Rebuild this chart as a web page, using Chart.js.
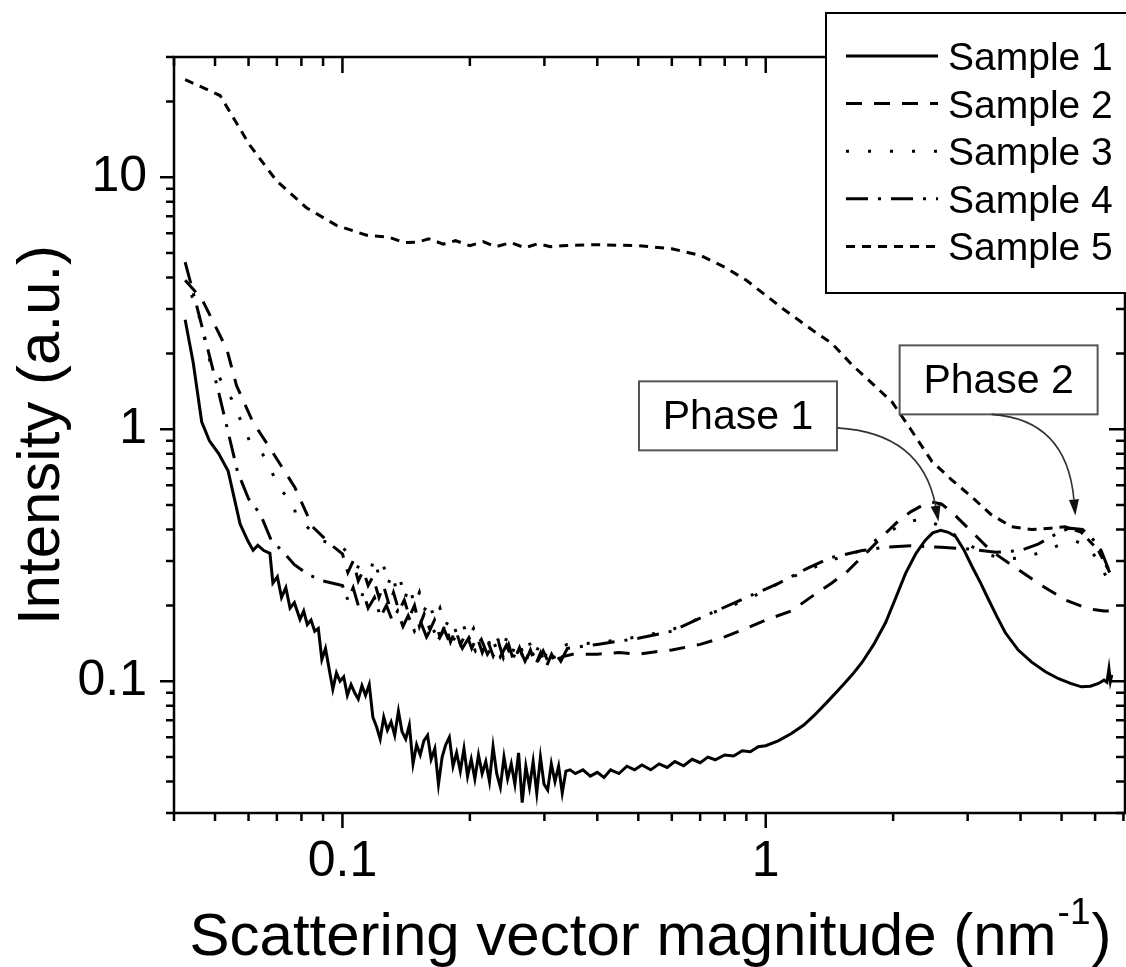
<!DOCTYPE html>
<html>
<head>
<meta charset="utf-8">
<script src="https://cdn.jsdelivr.net/npm/chart.js@4.4.1/dist/chart.umd.min.js"></script>
<style>
  html, body { margin: 0; padding: 0; background: #fff; }
  #wrap { width: 1126px; height: 967px; }
</style>
</head>
<body>
<div id="wrap"><canvas id="saxsChart" width="1126" height="967"></canvas></div>
<script>
// SAXS intensity vs. q for five samples, log-log
const FONT = "'Liberation Sans', Arial, Helvetica, sans-serif";

const sampleLabels = ["Sample 1", "Sample 2", "Sample 3", "Sample 4", "Sample 5"];
const sampleDashes = [[], [16, 12], [3, 19], [22, 10, 3, 10], [9, 7]];

// [q (nm^-1), intensity (a.u.)]
const sample1 = [
  [0.0425, 2.72], [0.0444, 1.84], [0.0465, 1.07], [0.0485, 0.90], [0.051, 0.80], [0.0537, 0.682],
  [0.0573, 0.421], [0.0598, 0.36], [0.0615, 0.331], [0.0631, 0.346], [0.0652, 0.33], [0.0674, 0.322],
  [0.0685, 0.245], [0.0702, 0.26], [0.0718, 0.215], [0.0735, 0.235], [0.0752, 0.195], [0.077, 0.205],
  [0.0794, 0.176], [0.081, 0.19], [0.0826, 0.168], [0.0843, 0.175], [0.086, 0.158], [0.0877, 0.162],
  [0.0894, 0.122], [0.0912, 0.135], [0.093, 0.112], [0.0949, 0.093], [0.0968, 0.108], [0.0987, 0.1],
  [0.1007, 0.104], [0.1027, 0.088], [0.1048, 0.097], [0.1069, 0.09], [0.109, 0.085], [0.1112, 0.096],
  [0.1134, 0.088], [0.1157, 0.097], [0.118, 0.072], [0.1204, 0.066], [0.1228, 0.059], [0.1252, 0.072],
  [0.1277, 0.064], [0.1303, 0.069], [0.1329, 0.061], [0.1356, 0.076], [0.1383, 0.063], [0.1411, 0.059],
  [0.1439, 0.067], [0.1468, 0.047], [0.1497, 0.056], [0.1527, 0.051], [0.1557, 0.058], [0.1589, 0.061],
  [0.162, 0.049], [0.1653, 0.054], [0.1686, 0.039], [0.172, 0.05], [0.1754, 0.056], [0.1789, 0.06],
  [0.1825, 0.046], [0.1861, 0.052], [0.1899, 0.044], [0.1937, 0.054], [0.1975, 0.042], [0.2015, 0.049],
  [0.2055, 0.041], [0.2096, 0.051], [0.2138, 0.043], [0.2181, 0.048], [0.2225, 0.04], [0.2269, 0.055],
  [0.2315, 0.043], [0.2361, 0.038], [0.2408, 0.05], [0.2456, 0.041], [0.2505, 0.047], [0.2555, 0.039],
  [0.2607, 0.052], [0.2659, 0.033], [0.2712, 0.046], [0.2766, 0.038], [0.2822, 0.048], [0.2878, 0.036],
  [0.2936, 0.05], [0.2994, 0.039], [0.3054, 0.037], [0.3115, 0.047], [0.3178, 0.04], [0.3241, 0.046],
  [0.3306, 0.036], [0.3372, 0.044], [0.345, 0.0445], [0.355, 0.043], [0.37, 0.0445], [0.385, 0.042],
  [0.4, 0.0435], [0.415, 0.0415], [0.43, 0.0445], [0.45, 0.043], [0.47, 0.046], [0.49, 0.0445],
  [0.51, 0.0465], [0.535, 0.0445], [0.56, 0.047], [0.585, 0.0455], [0.61, 0.048], [0.64, 0.0462],
  [0.67, 0.049], [0.7, 0.0475], [0.73, 0.05], [0.76, 0.0488], [0.8, 0.051], [0.84, 0.0505],
  [0.88, 0.053], [0.92, 0.0525], [0.96, 0.055], [1.0, 0.0555], [1.07, 0.058], [1.15, 0.062],
  [1.23, 0.067], [1.3, 0.073], [1.4, 0.083], [1.5, 0.094], [1.6, 0.106], [1.69, 0.119],
  [1.8, 0.14], [1.92, 0.171], [2.03, 0.215], [2.14, 0.268], [2.26, 0.32], [2.38, 0.362],
  [2.48, 0.388], [2.59, 0.397], [2.7, 0.39], [2.81, 0.375], [2.94, 0.332], [3.07, 0.286],
  [3.22, 0.245], [3.36, 0.211], [3.52, 0.18], [3.68, 0.156], [3.95, 0.133], [4.25, 0.119],
  [4.58, 0.109], [4.92, 0.1023], [5.25, 0.098], [5.57, 0.095], [5.85, 0.0955], [6.11, 0.098],
  [6.3, 0.101], [6.4, 0.099], [6.47, 0.112], [6.52, 0.1], [6.57, 0.106]
];

const sample2 = [
  [0.0425, 3.9], [0.0465, 3.3], [0.0481, 2.94], [0.0533, 2.08], [0.0562, 1.49], [0.0614, 1.07],
  [0.0685, 0.807], [0.0772, 0.588], [0.085, 0.41], [0.0946, 0.345], [0.1, 0.32], [0.103, 0.27],
  [0.106, 0.3], [0.109, 0.25], [0.112, 0.275], [0.115, 0.24], [0.118, 0.26], [0.122, 0.215],
  [0.125, 0.24], [0.129, 0.2], [0.132, 0.225], [0.136, 0.19], [0.14, 0.21], [0.144, 0.18],
  [0.148, 0.2], [0.152, 0.165], [0.156, 0.185], [0.161, 0.16], [0.165, 0.175], [0.17, 0.15],
  [0.175, 0.168], [0.18, 0.143], [0.185, 0.16], [0.19, 0.14], [0.196, 0.155], [0.202, 0.135],
  [0.208, 0.15], [0.214, 0.13], [0.22, 0.146], [0.227, 0.126], [0.234, 0.142], [0.24, 0.124],
  [0.247, 0.14], [0.254, 0.12], [0.262, 0.136], [0.27, 0.118], [0.278, 0.133], [0.286, 0.116],
  [0.294, 0.13], [0.303, 0.114], [0.312, 0.128], [0.321, 0.117], [0.33, 0.125], [0.35, 0.128],
  [0.4, 0.128], [0.45, 0.13], [0.5, 0.128], [0.55, 0.131], [0.6, 0.133], [0.7, 0.14],
  [0.8, 0.15], [0.9, 0.162], [1.0, 0.175], [1.15, 0.19], [1.3, 0.22], [1.43, 0.245],
  [1.55, 0.27], [1.63, 0.294], [1.75, 0.33], [1.9, 0.38], [2.05, 0.43], [2.2, 0.47],
  [2.35, 0.5], [2.47, 0.514], [2.6, 0.505], [2.75, 0.47], [2.9, 0.43], [3.1, 0.385],
  [3.4, 0.33], [3.8, 0.29], [4.4, 0.245], [5.1, 0.21], [5.6, 0.198], [6.0, 0.192],
  [6.3, 0.19], [6.55, 0.19]
];

const sample3 = [
  [0.044, 3.41], [0.046, 2.76], [0.0486, 1.87], [0.0547, 1.32], [0.0604, 0.894], [0.0649, 0.793],
  [0.0717, 0.569], [0.0763, 0.52], [0.0778, 0.449], [0.0895, 0.361], [0.1, 0.342], [0.108, 0.286],
  [0.116, 0.268], [0.119, 0.31], [0.122, 0.26], [0.125, 0.29], [0.128, 0.24], [0.131, 0.27],
  [0.134, 0.23], [0.137, 0.255], [0.14, 0.21], [0.144, 0.24], [0.148, 0.2], [0.152, 0.225],
  [0.156, 0.19], [0.16, 0.21], [0.165, 0.175], [0.17, 0.195], [0.175, 0.165], [0.18, 0.18],
  [0.186, 0.155], [0.192, 0.172], [0.198, 0.148], [0.204, 0.162], [0.21, 0.14], [0.217, 0.158],
  [0.224, 0.137], [0.231, 0.152], [0.238, 0.133], [0.245, 0.15], [0.252, 0.13], [0.26, 0.146],
  [0.268, 0.127], [0.276, 0.143], [0.284, 0.125], [0.292, 0.14], [0.3, 0.124], [0.309, 0.138],
  [0.318, 0.122], [0.327, 0.136], [0.34, 0.14], [0.4, 0.142], [0.5, 0.15], [0.6, 0.16],
  [0.75, 0.187], [0.9, 0.21], [1.075, 0.245], [1.25, 0.275], [1.41, 0.3], [1.69, 0.331],
  [1.85, 0.37], [2.0, 0.4], [2.15, 0.425], [2.3, 0.44], [2.45, 0.43], [2.6, 0.41],
  [2.8, 0.38], [3.0, 0.35], [3.3, 0.32], [3.7, 0.305], [4.1, 0.31], [4.6, 0.33],
  [5.0, 0.35], [5.4, 0.36], [5.8, 0.34], [6.1, 0.3], [6.3, 0.27], [6.5, 0.245]
];

const sample4 = [
  [0.0425, 4.6], [0.045, 3.2], [0.048, 2.1], [0.051, 1.4], [0.0535, 1.0], [0.0565, 0.68],
  [0.06, 0.53], [0.064, 0.46], [0.068, 0.36], [0.072, 0.33], [0.077, 0.29], [0.083, 0.265],
  [0.09, 0.25], [0.1, 0.24], [0.103, 0.21], [0.106, 0.235], [0.109, 0.2], [0.112, 0.225],
  [0.115, 0.195], [0.119, 0.215], [0.123, 0.18], [0.127, 0.2], [0.131, 0.175], [0.135, 0.19],
  [0.139, 0.165], [0.143, 0.182], [0.148, 0.158], [0.153, 0.172], [0.158, 0.15], [0.163, 0.165],
  [0.168, 0.145], [0.174, 0.16], [0.18, 0.14], [0.186, 0.152], [0.192, 0.135], [0.199, 0.149],
  [0.206, 0.132], [0.213, 0.146], [0.22, 0.128], [0.228, 0.142], [0.236, 0.125], [0.244, 0.139],
  [0.252, 0.122], [0.261, 0.137], [0.27, 0.12], [0.279, 0.134], [0.288, 0.118], [0.298, 0.132],
  [0.308, 0.117], [0.318, 0.13], [0.328, 0.12], [0.34, 0.135], [0.4, 0.14], [0.5, 0.148],
  [0.6, 0.158], [0.747, 0.187], [0.9, 0.215], [1.075, 0.245], [1.25, 0.28], [1.43, 0.31],
  [1.69, 0.33], [1.9, 0.34], [2.2, 0.345], [2.6, 0.34], [3.0, 0.335], [3.5, 0.325],
  [4.0, 0.33], [4.4, 0.35], [4.8, 0.38], [5.2, 0.405], [5.6, 0.4], [5.9, 0.37],
  [6.2, 0.33], [6.5, 0.27]
];

const sample5 = [
  [0.0425, 24.4], [0.0514, 21.1], [0.0604, 13.4], [0.0699, 9.67], [0.0822, 7.57], [0.0968, 6.44],
  [0.114, 5.89], [0.129, 5.78], [0.14, 5.5], [0.15, 5.52], [0.16, 5.7], [0.173, 5.43],
  [0.185, 5.6], [0.2, 5.35], [0.215, 5.55], [0.23, 5.3], [0.25, 5.5], [0.27, 5.25],
  [0.29, 5.45], [0.31, 5.3], [0.33, 5.35], [0.4, 5.4], [0.5, 5.35], [0.6, 5.2],
  [0.7, 4.9], [0.8, 4.4], [0.9, 3.9], [1.0, 3.4], [1.1, 3.0], [1.2, 2.7],
  [1.3, 2.45], [1.43, 2.2], [1.6, 1.8], [1.8, 1.5], [1.99, 1.28], [2.2, 1.0],
  [2.47, 0.745], [2.75, 0.63], [3.07, 0.538], [3.4, 0.46], [3.81, 0.41], [4.25, 0.4],
  [4.7, 0.405], [5.1, 0.41], [5.57, 0.39], [6.11, 0.33], [6.5, 0.27]
];

const samples = [sample1, sample2, sample3, sample4, sample5];

const xMajorTicks = [0.1, 1];
const yMajorTicks = [0.1, 1, 10];
const xMinorTicks = [0.04, 0.05, 0.06, 0.07, 0.08, 0.09, 0.2, 0.3, 0.4, 0.5, 0.6, 0.7, 0.8, 0.9, 2, 3, 4, 5, 6, 7];
const yMinorTicks = [0.03, 0.04, 0.05, 0.06, 0.07, 0.08, 0.09, 0.2, 0.3, 0.4, 0.5, 0.6, 0.7, 0.8, 0.9,
  2, 3, 4, 5, 6, 7, 8, 9, 20, 30];

// labelled boxes with curved arrows; box centre and arrow tip in data units
const phaseNotes = [
  { text: "Phase 1", box: [0.86, 1.13], tip: [2.56, 0.43], from: "right", bend: [85, 5] },
  { text: "Phase 2", box: [3.55, 1.57], tip: [5.39, 0.455], from: "bottom", bend: [75, 5] }
];

const frameAndExtras = {
  id: "frameAndExtras",
  afterDraw(chart) {
    const { ctx, chartArea: a, scales: { x, y } } = chart;
    ctx.save();
    ctx.strokeStyle = "#000";
    ctx.lineWidth = 2.5;
    ctx.strokeRect(a.left, a.top, a.right - a.left, a.bottom - a.top);

    const tickX = (vals, outLen, inLen) => {
      ctx.beginPath();
      vals.forEach(v => {
        const px = x.getPixelForValue(v);
        if (px < a.left - 1 || px > a.right + 1) return;
        ctx.moveTo(px, a.bottom); ctx.lineTo(px, a.bottom + outLen);
        ctx.moveTo(px, a.top); ctx.lineTo(px, a.top + inLen);
      });
      ctx.stroke();
    };
    const tickY = (vals, outLen, inLen) => {
      ctx.beginPath();
      vals.forEach(v => {
        const py = y.getPixelForValue(v);
        if (py < a.top - 1 || py > a.bottom + 1) return;
        ctx.moveTo(a.left - outLen, py); ctx.lineTo(a.left, py);
        ctx.moveTo(a.right - inLen, py); ctx.lineTo(a.right, py);
      });
      ctx.stroke();
    };
    tickX(xMajorTicks, 15, 16);
    tickX(xMinorTicks, 8, 9);
    tickY(yMajorTicks, 14, 16);
    tickY(yMinorTicks, 8, 9);

    // x axis title with superscript
    const main = "Scattering vector magnitude (nm";
    const sup = "-1";
    const close = ")";
    ctx.fillStyle = "#000";
    ctx.textBaseline = "alphabetic";
    ctx.textAlign = "left";
    ctx.font = "60px " + FONT;
    const wMain = ctx.measureText(main).width;
    const wClose = ctx.measureText(close).width;
    ctx.font = "37px " + FONT;
    const wSup = ctx.measureText(sup).width;
    const total = wMain + wSup + wClose;
    const tx = (a.left + a.right) / 2 - total / 2;
    const base = 955;
    ctx.font = "60px " + FONT;
    ctx.fillText(main, tx, base);
    ctx.font = "37px " + FONT;
    ctx.fillText(sup, tx + wMain + 1, base - 31);
    ctx.font = "60px " + FONT;
    ctx.fillText(close, tx + wMain + wSup + 2, base);

    // legend
    const lg = { left: 826, top: 13, right: 1130, bottom: 293 };
    ctx.fillStyle = "#fff";
    ctx.fillRect(lg.left, lg.top, lg.right - lg.left, lg.bottom - lg.top);
    ctx.lineWidth = 2;
    ctx.strokeRect(lg.left, lg.top, lg.right - lg.left, lg.bottom - lg.top);
    ctx.font = "39px " + FONT;
    ctx.fillStyle = "#000";
    sampleLabels.forEach((label, k) => {
      const cy = 56 + k * 47.6;
      ctx.beginPath();
      ctx.lineWidth = 3;
      ctx.setLineDash(sampleDashes[k]);
      ctx.moveTo(846, cy);
      ctx.lineTo(938, cy);
      ctx.stroke();
      ctx.setLineDash([]);
      ctx.fillText(label, 948, cy + 14);
    });

    // phase annotations
    phaseNotes.forEach(n => {
      ctx.font = "41px " + FONT;
      const bx = x.getPixelForValue(n.box[0]);
      const by = y.getPixelForValue(n.box[1]);
      const bw = 198, bh = 69;
      const L = bx - bw / 2, T = by - bh / 2;
      ctx.fillStyle = "#fff";
      ctx.fillRect(L, T, bw, bh);
      ctx.strokeStyle = "#555";
      ctx.lineWidth = 2;
      ctx.strokeRect(L, T, bw, bh);
      ctx.fillStyle = "#000";
      ctx.textAlign = "center";
      ctx.textBaseline = "middle";
      ctx.fillText(n.text, bx, by + 2);

      const ex = x.getPixelForValue(n.tip[0]);
      const ey = y.getPixelForValue(n.tip[1]);
      const sx = n.from === "right" ? L + bw : bx - 7;
      const sy = n.from === "right" ? by + 12 : T + bh;
      const cx = sx + n.bend[0];
      const cy = sy + n.bend[1];
      const head = 16;
      const ang = Math.atan2(ey - cy, ex - cx);
      const hx = ex - head * Math.cos(ang), hy = ey - head * Math.sin(ang);
      ctx.strokeStyle = "#333";
      ctx.lineWidth = 1.6;
      ctx.beginPath();
      ctx.moveTo(sx, sy);
      ctx.quadraticCurveTo(cx, cy, hx, hy);
      ctx.stroke();
      ctx.fillStyle = "#111";
      ctx.beginPath();
      ctx.moveTo(ex, ey);
      ctx.lineTo(hx + 5 * Math.sin(ang), hy - 5 * Math.cos(ang));
      ctx.lineTo(hx - 5 * Math.sin(ang), hy + 5 * Math.cos(ang));
      ctx.closePath();
      ctx.fill();
    });
    ctx.restore();
  }
};

const ctx = document.getElementById("saxsChart").getContext("2d");
const saxsChart = new Chart(ctx, {
  type: "line",
  data: {
    datasets: samples.map((s, k) => ({
      label: sampleLabels[k],
      data: s.map(p => ({ x: p[0], y: p[1] })),
      borderColor: "#000",
      borderWidth: 3,
      borderDash: sampleDashes[k],
      pointRadius: 0,
      fill: false,
      tension: 0
    }))
  },
  options: {
    responsive: false,
    animation: false,
    devicePixelRatio: 1,
    layout: { padding: { top: 47, right: 1, left: 0, bottom: 0 } },
    plugins: {
      legend: { display: false },
      tooltip: { enabled: false }
    },
    scales: {
      x: {
        type: "logarithmic",
        min: 0.04,
        max: 7.06,
        afterBuildTicks: s => { s.ticks = xMajorTicks.map(v => ({ value: v })); },
        afterFit: s => { s.height = 154; },
        grid: { display: false, drawTicks: false },
        border: { display: false },
        ticks: {
          color: "#000",
          font: { family: FONT, size: 50 },
          padding: 19,
          maxRotation: 0,
          autoSkip: false,
          callback: v => String(v)
        }
      },
      y: {
        type: "logarithmic",
        min: 0.03,
        max: 30,
        afterBuildTicks: s => { s.ticks = yMajorTicks.map(v => ({ value: v })); },
        afterFit: s => { s.width = 174; },
        grid: { display: false, drawTicks: false },
        border: { display: false },
        ticks: {
          color: "#000",
          font: { family: FONT, size: 50 },
          padding: 27,
          autoSkip: false,
          callback: v => String(v)
        },
        title: {
          display: true,
          text: "Intensity (a.u.)",
          color: "#000",
          font: { family: FONT, size: 60 },
          padding: { top: 6, bottom: 0 }
        }
      }
    }
  },
  plugins: [frameAndExtras]
});
</script>
</body>
</html>
